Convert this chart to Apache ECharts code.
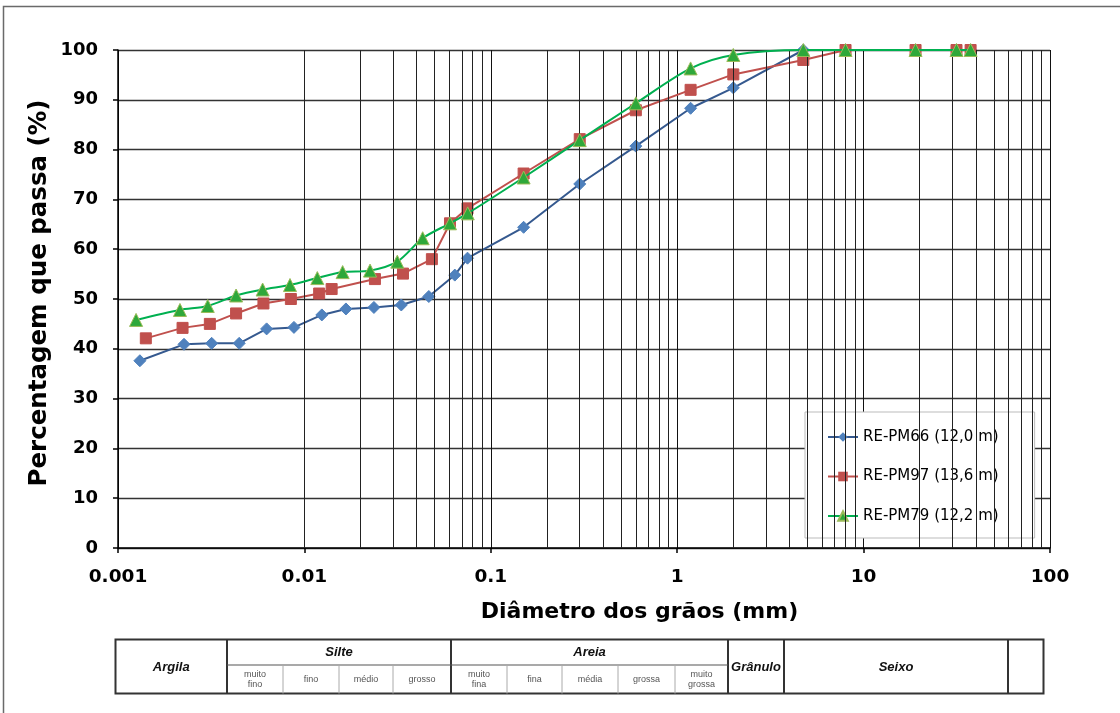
<!DOCTYPE html>
<html>
<head>
<meta charset="utf-8">
<script src="https://cdn.jsdelivr.net/npm/echarts@6/dist/echarts.min.js"></script>
<style>
html,body{margin:0;padding:0;background:#fff;}
#chart{width:1120px;height:713px;}
</style>
</head>
<body>
<div id="chart"></div>
<script>
// ---- data ----
const seriesNames = ['RE-PM66 (12,0 m)', 'RE-PM97 (13,6 m)', 'RE-PM79 (12,2 m)'];

const diam66 = [0.00131,0.00226,0.00318,0.00447,0.00627,0.00879,0.0124,0.0167,0.0236,0.0331,0.0465,0.0641,0.075,0.15,0.3,0.6,1.18,2.0,4.75,8,19,31.5,37.5];
const pass66 = [37.6,40.9,41.1,41.1,44.0,44.3,46.8,48.0,48.3,48.8,50.5,54.8,58.2,64.4,73.1,80.7,88.3,92.4,100,100,100,100,100];

const diam97 = [0.00141,0.00222,0.00311,0.0043,0.00603,0.00846,0.0120,0.0140,0.0239,0.0338,0.0483,0.0604,0.075,0.15,0.3,0.6,1.18,2.0,4.75,8,19,31.5,37.5];
const pass97 = [42.1,44.2,45.0,47.1,49.1,50.0,51.1,52.0,54.0,55.1,58.0,65.2,68.2,75.2,82.1,87.9,92.0,95.1,98.0,100,100,100,100];

const diam79 = [0.00125,0.00215,0.00303,0.0043,0.00597,0.00837,0.01173,0.01604,0.0225,0.0315,0.0431,0.0604,0.0752,0.15,0.3,0.6,1.18,2.0,4.75,8,19,31.5,37.5];
const pass79 = [45.8,47.8,48.6,50.7,51.9,52.8,54.2,55.4,55.7,57.5,62.2,65.2,67.2,74.4,81.9,89.3,96.3,99.0,100,100,100,100,100];

const xTickLabels = ['0.001','0.01','0.1','1','10','100'];
const decades = [0.001,0.01,0.1,1,10];
const minorMultipliers = [2,3,4,5,6,7,8,9];

const tableMain = ['Argila','Silte','Areia','Grânulo','Seixo'];
const silteSub = ['muito\nfino','fino','médio','grosso'];
const areiaSub = ['muito\nfina','fina','média','grossa','muito\ngrossa'];

// ---- build ----
function pairs(xs, ys){ return xs.map((x,i)=>[x, ys[i]]); }
const minorLines = [];
decades.forEach(d => minorMultipliers.forEach(m => minorLines.push({xAxis: +(d*m).toPrecision(3)})));

const chart = echarts.init(document.getElementById('chart'), null, {renderer:'canvas'});

const tickFont = {fontFamily:'DejaVu Sans', fontWeight:'bold', fontSize:18, color:'#000'};

// table graphic
const tX = {left:115.5, right:1043.5, top:639.5, mid:665, bottom:693.5};
const mainX = [115.5, 227, 451, 728, 784, 1008];
const silteX = [227, 283, 339, 393, 451];
const areiaX = [451, 507, 562, 618, 675, 728];
const g = [];
g.push({type:'rect', silent:true, z:0, shape:{x:3.5,y:6.5,width:1300,height:900}, style:{fill:'none', stroke:'#6a6a6a', lineWidth:1.5}});
g.push({type:'rect', silent:true, shape:{x:tX.left,y:tX.top,width:tX.right-tX.left,height:tX.bottom-tX.top}, style:{fill:'#fff', stroke:'#333', lineWidth:2}});
[227,451,728,784,1008].forEach(x => g.push({type:'line', silent:true, shape:{x1:x,y1:tX.top,x2:x,y2:tX.bottom}, style:{stroke:'#333', lineWidth:2}}));
g.push({type:'line', silent:true, shape:{x1:227,y1:tX.mid,x2:728,y2:tX.mid}, style:{stroke:'#555', lineWidth:1.2}});
[283,339,393,507,562,618,675].forEach(x => g.push({type:'line', silent:true, shape:{x1:x,y1:tX.mid,x2:x,y2:tX.bottom}, style:{stroke:'#aaa', lineWidth:1}}));
const mainStyle = {fontFamily:'Liberation Sans', fontWeight:'bold', fontStyle:'italic', fontSize:13, fill:'#111', align:'center', verticalAlign:'middle'};
const subStyle = {fontFamily:'Liberation Sans', fontSize:9, fill:'#555', align:'center', verticalAlign:'middle', lineHeight:10};
g.push({type:'text', silent:true, style:Object.assign({text:tableMain[0], x:(mainX[0]+mainX[1])/2, y:667}, mainStyle)});
g.push({type:'text', silent:true, style:Object.assign({text:tableMain[1], x:(mainX[1]+mainX[2])/2, y:652}, mainStyle)});
g.push({type:'text', silent:true, style:Object.assign({text:tableMain[2], x:(mainX[2]+mainX[3])/2, y:652}, mainStyle)});
g.push({type:'text', silent:true, style:Object.assign({text:tableMain[3], x:(mainX[3]+mainX[4])/2, y:667}, mainStyle)});
g.push({type:'text', silent:true, style:Object.assign({text:tableMain[4], x:(mainX[4]+mainX[5])/2, y:667}, mainStyle)});
silteSub.forEach((t,i)=> g.push({type:'text', silent:true, style:Object.assign({text:t, x:(silteX[i]+silteX[i+1])/2, y:680}, subStyle)}));
areiaSub.forEach((t,i)=> g.push({type:'text', silent:true, style:Object.assign({text:t, x:(areiaX[i]+areiaX[i+1])/2, y:680}, subStyle)}));

const option = {
  animation:false,
  backgroundColor:'#fff',
  grid:{left:118, right:70, top:50, bottom:165, containLabel:false},
  xAxis:{
    type:'log', logBase:10, min:0.001, max:100,
    name:'Diâmetro dos grãos (mm)', nameLocation:'middle', nameGap:53,
    nameTextStyle:{fontFamily:'DejaVu Sans', fontWeight:'bold', fontSize:22, color:'#000', padding:[0,0,0,111]},
    axisLine:{show:true, onZero:false, lineStyle:{color:'#000', width:1.5}},
    axisTick:{show:true, length:5, lineStyle:{color:'#000', width:1.5}},
    axisLabel:Object.assign({margin:20, formatter:(v)=> xTickLabels[Math.round(Math.log10(v))+3]}, tickFont, {fontSize:18.5}),
    splitLine:{show:true, lineStyle:{color:'#111', width:1}},
    minorTick:{show:false}, minorSplitLine:{show:false}
  },
  yAxis:{
    type:'value', min:0, max:100, interval:10,
    name:'Percentagem que passa (%)', nameLocation:'middle', nameGap:66, nameRotate:90, nameMoveOverlap:false,
    nameTextStyle:{fontFamily:'DejaVu Sans', fontWeight:'bold', fontSize:24.5, color:'#000', padding:[0,0,0,12]},
    axisLine:{show:true, lineStyle:{color:'#000', width:1.5}},
    axisTick:{show:true, length:5, lineStyle:{color:'#000', width:1.5}},
    axisLabel:Object.assign({margin:20}, tickFont),
    splitLine:{show:true, lineStyle:{color:'#333', width:1.3}}
  },
  legend:{
    data:seriesNames, orient:'vertical', left:805, top:412,
    backgroundColor:'#fff', borderColor:'#bbb', borderWidth:1,
    padding:[17,36,14,22], itemGap:23.5, itemWidth:30, itemHeight:12,
    textStyle:{fontFamily:'DejaVu Sans', fontSize:15, lineHeight:16, color:'#000'}
  },
  graphic:g,
  series:[
    {
      name:'grid', type:'line', data:[], silent:true, z:1,
      markLine:{silent:true, symbol:['none','none'], label:{show:false}, animation:false,
        lineStyle:{color:'#222', width:1, type:'solid'}, emphasis:{disabled:true}, data:minorLines}
    },
    {
      name:seriesNames[0], type:'line', data:pairs(diam66, pass66), z:3,
      symbol:'diamond', symbolSize:12,
      lineStyle:{color:'#35598f', width:2},
      itemStyle:{color:'#4F81BD', borderColor:'#4F81BD'},
      color:'#35598f'
    },
    {
      name:seriesNames[1], type:'line', data:pairs(diam97, pass97), z:4,
      symbol:'rect', symbolSize:11,
      lineStyle:{color:'#C0504D', width:2},
      itemStyle:{color:'#C0504D', borderColor:'#C0504D'}
    },
    {
      name:seriesNames[2], type:'line', data:pairs(diam79, pass79), z:5, smooth:0.3,
      symbol:'triangle', symbolSize:13,
      lineStyle:{color:'#00B050', width:2},
      itemStyle:{color:'#2EA83A', borderColor:'#9BBB59', borderWidth:1}
    }
  ]
};
chart.setOption(option);
</script>
</body>
</html>
